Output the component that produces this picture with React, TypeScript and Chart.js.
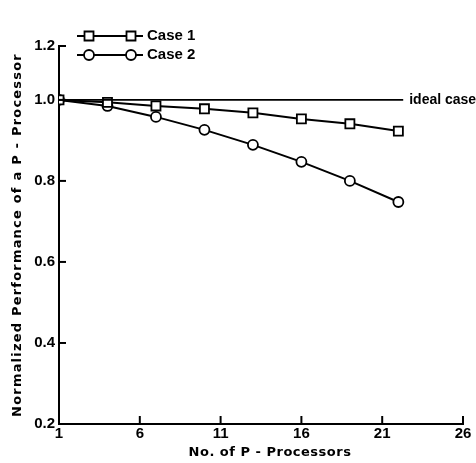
import React, { useEffect, useRef } from 'react';
import { Chart, registerables } from 'chart.js';
Chart.register(...registerables);

const X_TICKS = [1, 6, 11, 16, 21, 26];
const Y_TOP = 1.133;
const Y_TICKS = [0.2, 0.4, 0.6, 0.8, 1.0, Y_TOP];
const Y_TICK_LABELS = ['0.2', '0.4', '0.6', '0.8', '1.0', '1.2'];
const PROCESSORS = [1, 4, 7, 10, 13, 16, 19, 22];
const CASE1 = [1.0, 0.994, 0.985, 0.978, 0.968, 0.953, 0.941, 0.923];
const CASE2 = [1.0, 0.985, 0.958, 0.926, 0.889, 0.847, 0.8, 0.748];
const IDEAL_X = [1, 22.3];
const IDEAL_Y = [1.0, 1.0];
const SERIES_NAMES = ['Case 1', 'Case 2'];
const IDEAL_LABEL = 'ideal case';
const X_TITLE = 'No. of P - Processors';
const Y_TITLE = 'Normalized Performance of a P - Processor';

const FONT = "'Liberation Sans', Arial, sans-serif";
const TITLE_FONT = "'DejaVu Sans', sans-serif";

const extras = {
  id: 'extras',
  afterDraw(chart: any) {
    const ctx = chart.ctx;
    const xs = chart.scales.x;
    const ys = chart.scales.y;
    ctx.save();
    ctx.strokeStyle = '#000';
    ctx.fillStyle = '#000';
    ctx.lineWidth = 2;
    // inward ticks on x axis
    X_TICKS.slice(1).forEach((v) => {
      const px = xs.getPixelForValue(v);
      ctx.beginPath();
      ctx.moveTo(px, ys.bottom);
      ctx.lineTo(px, ys.bottom - 8);
      ctx.stroke();
    });
    // inward ticks on y axis
    Y_TICKS.slice(1).forEach((v) => {
      const py = ys.getPixelForValue(v);
      ctx.beginPath();
      ctx.moveTo(xs.left, py);
      ctx.lineTo(xs.left + 7, py);
      ctx.stroke();
    });
    // axis titles
    ctx.font = `bold 13px ${TITLE_FONT}`;
    ctx.textAlign = 'center';
    ctx.textBaseline = 'middle';
    (ctx as any).letterSpacing = '0.5px';
    ctx.fillText(X_TITLE, (xs.left + xs.right) / 2 + 9, chart.height - 10);
    ctx.save();
    (ctx as any).letterSpacing = '1.2px';
    ctx.translate(18, (ys.top + ys.bottom) / 2);
    ctx.rotate(-Math.PI / 2);
    ctx.fillText(Y_TITLE, 0, 0);
    ctx.restore();
    (ctx as any).letterSpacing = '0px';
    // ideal case label
    ctx.font = `bold 14px ${FONT}`;
    ctx.textBaseline = 'middle';
    ctx.textAlign = 'left';
    ctx.fillText(IDEAL_LABEL, xs.getPixelForValue(IDEAL_X[1]) + 6, ys.getPixelForValue(IDEAL_Y[1]));
    // legend
    const lx0 = xs.left + 18;
    const lx1 = xs.left + 84;
    const rows = [ys.top - 10, ys.top + 9];
    rows.forEach((ry, i) => {
      ctx.lineWidth = 2;
      ctx.beginPath();
      ctx.moveTo(lx0, ry);
      ctx.lineTo(lx1, ry);
      ctx.stroke();
      [lx0 + 12, lx1 - 12].forEach((mx) => {
        ctx.beginPath();
        if (i === 0) {
          ctx.rect(mx - 4.5, ry - 4.5, 9, 9);
        } else {
          ctx.arc(mx, ry, 5, 0, Math.PI * 2);
        }
        ctx.fillStyle = '#fff';
        ctx.fill();
        ctx.lineWidth = 1.8;
        ctx.stroke();
      });
      ctx.fillStyle = '#000';
      ctx.font = `bold 15px ${FONT}`;
      ctx.fillText(SERIES_NAMES[i], lx1 + 4, ry);
    });
    ctx.restore();
  },
};

export default function App() {
  const ref = useRef<HTMLCanvasElement>(null);
  useEffect(() => {
    document.body.style.margin = '0';
    const ctx = ref.current!.getContext('2d')!;
    const chart = new Chart(ctx, {
      type: 'line',
      data: {
        datasets: [
          {
            label: 'ideal',
            data: IDEAL_X.map((x, i) => ({ x, y: IDEAL_Y[i] })),
            borderColor: '#000',
            borderWidth: 1.8,
            pointRadius: 0,
          },
          {
            label: SERIES_NAMES[0],
            data: PROCESSORS.map((x, i) => ({ x, y: CASE1[i] })),
            borderColor: '#000',
            borderWidth: 2,
            pointStyle: 'rect',
            pointRadius: 6.4,
            pointBackgroundColor: '#fff',
            pointBorderColor: '#000',
            pointBorderWidth: 1.8,
          },
          {
            label: SERIES_NAMES[1],
            data: PROCESSORS.map((x, i) => ({ x, y: CASE2[i] })),
            borderColor: '#000',
            borderWidth: 2,
            pointStyle: 'circle',
            pointRadius: 5,
            pointBackgroundColor: '#fff',
            pointBorderColor: '#000',
            pointBorderWidth: 1.8,
          },
        ],
      },
      options: {
        responsive: false,
        animation: false,
        layout: { padding: { top: 46, right: 13, left: 0, bottom: 0 } },
        plugins: { legend: { display: false }, tooltip: { enabled: false } },
        scales: {
          x: {
            type: 'linear',
            min: 1,
            max: 26,
            afterBuildTicks: (s: any) => {
              s.ticks = X_TICKS.map((v) => ({ value: v }));
            },
            afterFit: (s: any) => {
              s.height = 39;
            },
            ticks: {
              color: '#000',
              font: { family: FONT, size: 15, weight: 'bold' },
              padding: 1,
              maxRotation: 0,
              autoSkip: false,
            },
            grid: { display: true, drawOnChartArea: false, drawTicks: false },
            border: { display: true, color: '#000', width: 2 },
          },
          y: {
            type: 'linear',
            min: 0.2,
            max: Y_TOP,
            afterBuildTicks: (s: any) => {
              s.ticks = Y_TICKS.map((v) => ({ value: v }));
            },
            afterFit: (s: any) => {
              s.width = 59;
            },
            ticks: {
              color: '#000',
              font: { family: FONT, size: 15, weight: 'bold' },
              padding: 4,
              autoSkip: false,
              callback: (_v: any, i: number) => Y_TICK_LABELS[i],
            },
            grid: { display: true, drawOnChartArea: false, drawTicks: false },
            border: { display: true, color: '#000', width: 2 },
          },
        },
      },
      plugins: [extras],
    } as any);
    return () => chart.destroy();
  }, []);
  return (
    <div style={{ width: 476, height: 463, background: '#fff' }}>
      <canvas ref={ref} width={476} height={463} />
    </div>
  );
}
